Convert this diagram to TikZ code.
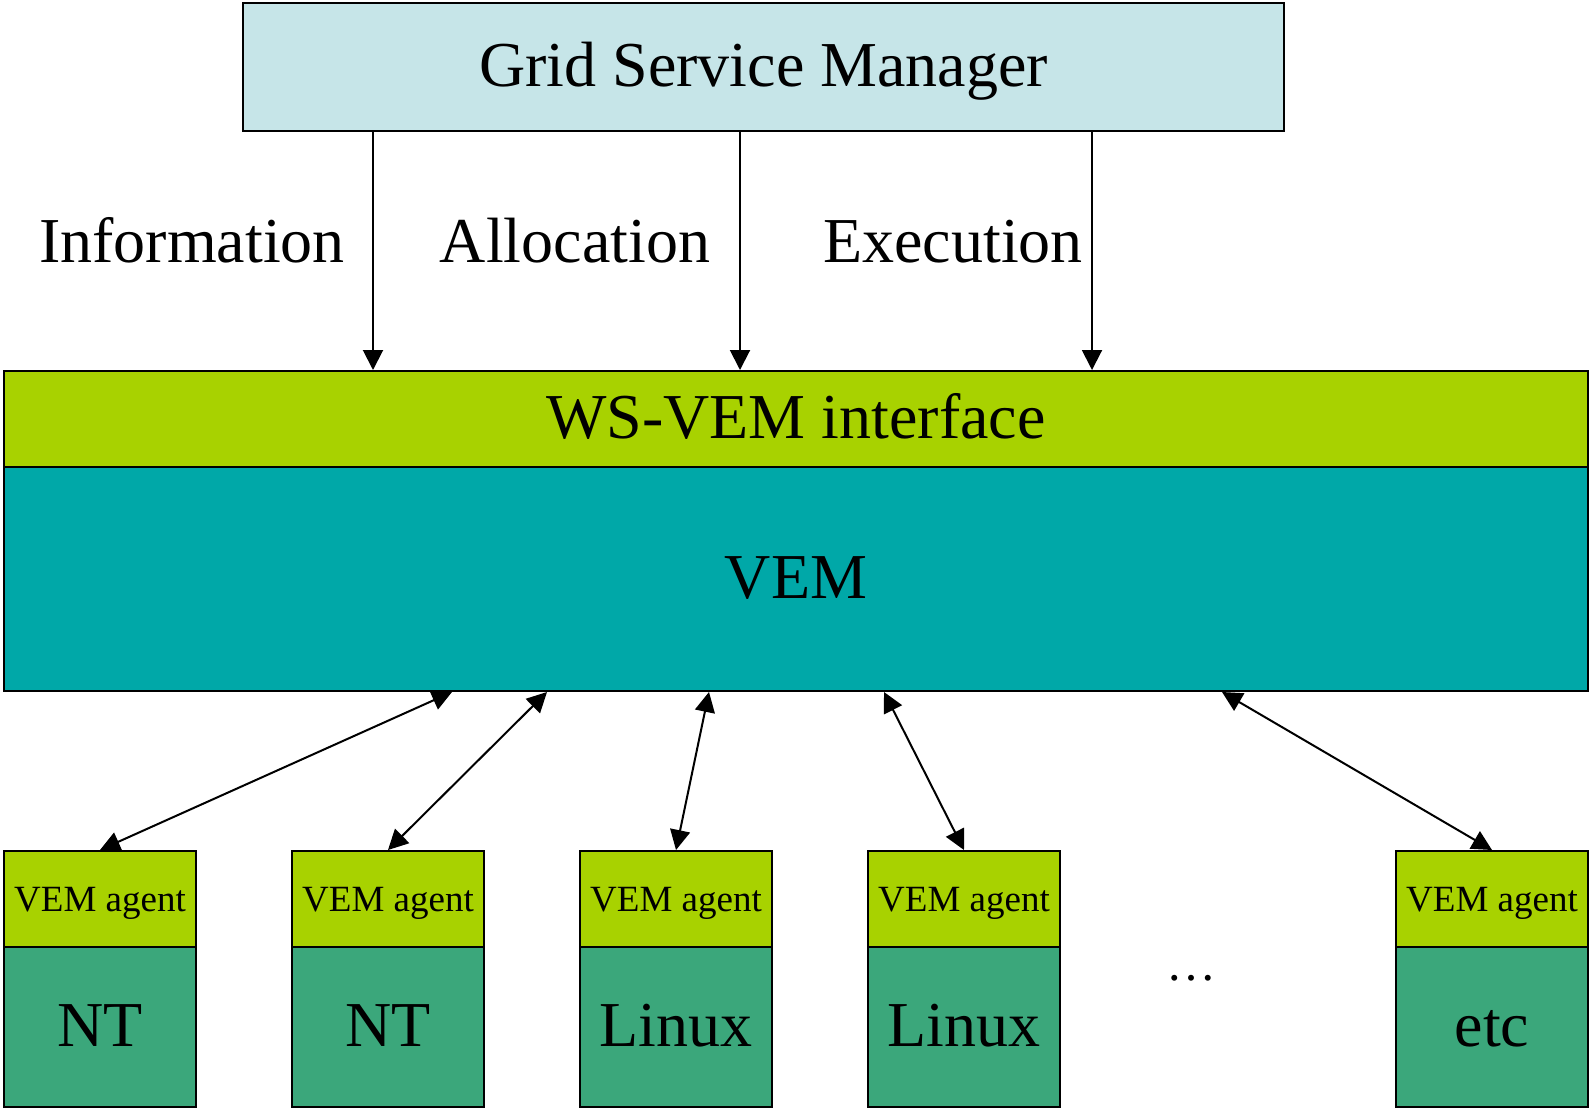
\documentclass[tikz,border=0pt]{standalone}
\usepackage{fontspec}
\setmainfont{Liberation Serif}
\usetikzlibrary{arrows.meta}
\definecolor{gsmc}{RGB}{198,229,232}
\definecolor{wsc}{RGB}{168,210,0}
\definecolor{vemc}{RGB}{0,168,168}
\definecolor{osc}{RGB}{59,167,123}
\tikzset{
 box/.style={draw=black, line width=2pt, inner sep=0pt},
 big/.style={font=\fontsize{64}{70}\selectfont, text height=43.5pt, text depth=3.7pt},
 small/.style={font=\fontsize{37}{42}\selectfont, text height=25.2pt, text depth=0.4pt},
 arr/.style={line width=2pt, -{Triangle[length=20pt,width=20pt]}},
 darr/.style={line width=2pt, {Triangle[length=20pt,width=20pt]}-{Triangle[length=20pt,width=20pt]}},
 lbl/.style={font=\fontsize{64}{70}\selectfont, anchor=base, inner sep=0pt},
}
\begin{document}
\begin{tikzpicture}[x=1pt,y=-1pt]
\useasboundingbox (0,0) rectangle (1589,1108);
\node[box,big,fill=gsmc,minimum width=1041pt,minimum height=128pt] (gsm) at (763.5,67) {Grid Service Manager};
\node[box,big,fill=wsc,minimum width=1584pt,minimum height=96pt] (ws) at (796,419) {WS-VEM interface};
\node[box,big,fill=vemc,minimum width=1584pt,minimum height=224pt] (vem) at (796,579) {VEM};
\coordinate (d1) at (373,0);
\coordinate (d2) at (740,0);
\coordinate (d3) at (1092,0);
\draw[arr] (d1 |- gsm.south) -- (d1 |- ws.north);
\draw[arr] (d2 |- gsm.south) -- (d2 |- ws.north);
\draw[arr] (d3 |- gsm.south) -- (d3 |- ws.north);
\node[lbl] (info) at (192,262) {Information};
\node[lbl] (alloc) at (575,262) {Allocation};
\node[lbl] (exec) at (953,262) {Execution};
\foreach \i/\x/\os/\t in {1/100/NT/452, 2/388/NT/547, 3/676/Linux/709, 4/964/Linux/884, 5/1492/etc/1222} {
 \node[box,small,fill=wsc,minimum width=192pt,minimum height=96pt] (ag\i) at (\x,899) {VEM agent};
 \node[box,big,fill=osc,minimum width=192pt,minimum height=160pt] (os\i) at (\x,1027) {\os};
 \coordinate (t\i) at (\t,0);
 \draw[darr] (t\i |- vem.south) -- (ag\i.north);
}
\node[font=\fontsize{50}{56}\selectfont, anchor=base, inner sep=0pt] (dots) at (1191,980) {\dots};
\end{tikzpicture}
\end{document}
